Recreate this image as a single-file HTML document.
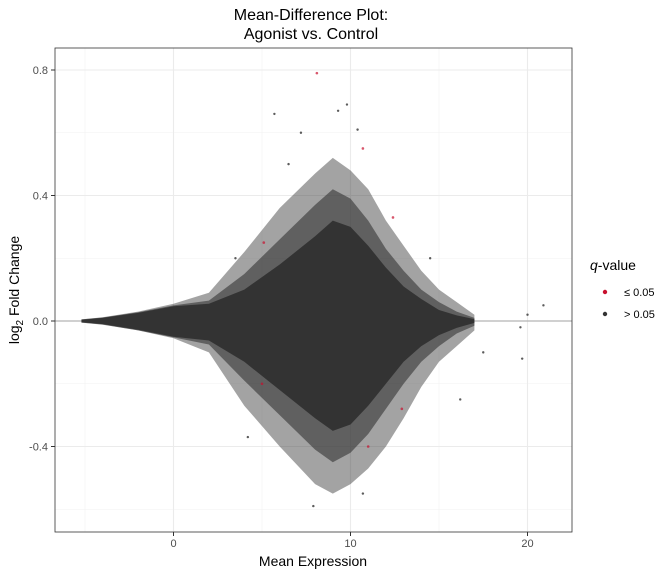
<!DOCTYPE html>
<html><head><meta charset="utf-8"><style>
body{margin:0;background:#fff;font-family:"Liberation Sans",sans-serif}
svg text{font-family:"Liberation Sans",sans-serif}
</style></head><body>
<svg width="672" height="576" xmlns="http://www.w3.org/2000/svg">
<text x="311" y="20" font-size="16" text-anchor="middle" fill="#000">Mean-Difference Plot:</text>
<text x="311" y="39" font-size="16" text-anchor="middle" fill="#000">Agonist vs. Control</text>
<g id="grid"></g>
<g id="cloud"></g>
<g id="pts"></g>
<rect x="55" y="48" width="517" height="484" fill="none" stroke="#333" stroke-width="0.8"/>
<g id="axes"></g>
<text x="313" y="566" font-size="14" text-anchor="middle">Mean Expression</text>
<text transform="translate(19,290) rotate(-90)" font-size="14" text-anchor="middle">log<tspan font-size="10" dy="4">2</tspan><tspan dy="-4"> Fold Change</tspan></text>
<g>
<text x="590" y="270" font-size="14"><tspan font-style="italic">q</tspan>-value</text>
<circle cx="605" cy="292" r="2.2" fill="#c8102e"/>
<text x="624" y="296" font-size="11">≤ 0.05</text>
<circle cx="605" cy="314" r="2.2" fill="#333"/>
<text x="624" y="318" font-size="11">&gt; 0.05</text>
</g>
</svg>
<script>
const envX=[-5.2,-4,-2,0,2,4,6,8,9,10,11,12,13,14,15,16,17];
const outerUp=[0.005,0.012,0.03,0.055,0.09,0.22,0.36,0.47,0.52,0.48,0.42,0.32,0.24,0.16,0.1,0.06,0.02];
const outerLo=[-0.005,-0.012,-0.03,-0.055,-0.1,-0.27,-0.4,-0.52,-0.55,-0.52,-0.47,-0.4,-0.31,-0.21,-0.13,-0.08,-0.03];
const midUp=[0.005,0.011,0.028,0.05,0.065,0.15,0.26,0.37,0.42,0.39,0.32,0.23,0.16,0.1,0.06,0.03,0.01];
const midLo=[-0.005,-0.011,-0.03,-0.052,-0.075,-0.19,-0.3,-0.41,-0.45,-0.42,-0.36,-0.28,-0.2,-0.13,-0.08,-0.04,-0.015];
const coreUp=[0.004,0.01,0.026,0.047,0.055,0.1,0.18,0.27,0.32,0.3,0.24,0.17,0.11,0.07,0.035,0.018,0.006];
const coreLo=[-0.004,-0.01,-0.028,-0.05,-0.062,-0.13,-0.22,-0.31,-0.35,-0.33,-0.27,-0.2,-0.13,-0.08,-0.045,-0.022,-0.006];
const ptX=[5.7,9.8,9.3,10.4,7.2,20.9,19.6,19.7,17.5,20,7.9,10.7,4.2,3.5,16.2,6.5,14.5];
const ptY=[0.66,0.69,0.67,0.61,0.6,0.05,-0.02,-0.12,-0.1,0.02,-0.59,-0.55,-0.37,0.2,-0.25,0.5,0.2];
const sigX=[8.1,10.7,12.9,11,5,5.1,12.4];
const sigY=[0.79,0.55,-0.28,-0.4,-0.2,0.25,0.33];
const xTicks=[0,10,20], xMinor=[-5,5,15];
const yTicks=[-0.4,0,0.4,0.8], yMinor=[-0.6,-0.2,0.2,0.6];
const X=v=>173.5+v*17.7, Y=v=>321-v*313.75;
const NS="http://www.w3.org/2000/svg";
function mk(t,a,p){const e=document.createElementNS(NS,t);for(const k in a)e.setAttribute(k,a[k]);p.appendChild(e);return e;}
const g=document.getElementById('grid');
xMinor.forEach(v=>{const e=mk('line',{x1:X(v),x2:X(v),y1:48,y2:532,stroke:'#f2f2f2','stroke-width':0.6},g);

});
yMinor.forEach(v=>{const e=mk('line',{x1:55,x2:572,y1:Y(v),y2:Y(v),stroke:'#f2f2f2','stroke-width':0.6},g);

});
xTicks.forEach(v=>{const e=mk('line',{x1:X(v),x2:X(v),y1:48,y2:532,stroke:'#ebebeb','stroke-width':1.1},g);

});
yTicks.forEach(v=>{const e=mk('line',{x1:55,x2:572,y1:Y(v),y2:Y(v),stroke:'#ebebeb','stroke-width':1.1},g);

});
const h=mk('line',{x1:55,x2:572,y1:Y(0),y2:Y(0),stroke:'#b3b3b3','stroke-width':1.2},g);


const c=document.getElementById('cloud');
function env(up,lo,op,name){let d='M'+envX.map((x,i)=>X(x)+','+Y(up[i])).join('L');
d+='L'+envX.slice().reverse().map((x,j)=>{const i=envX.length-1-j;return X(x)+','+Y(lo[i]);}).join('L')+'Z';
const e=mk('path',{d:d,fill:'#333','fill-opacity':op,stroke:'none'},c);

}
env(outerUp,outerLo,0.45,'sparse-point-region');
env(midUp,midLo,0.6,'medium-point-region');
env(coreUp,coreLo,1,'dense-point-region');
const p=document.getElementById('pts');
ptX.forEach((x,i)=>{const e=mk('circle',{cx:X(x),cy:Y(ptY[i]),r:1.2,fill:'#333','fill-opacity':0.8},p);

});
sigX.forEach((x,i)=>{const e=mk('circle',{cx:X(x),cy:Y(sigY[i]),r:1.3,fill:'#c8102e','fill-opacity':0.7},p);

});
const a=document.getElementById('axes');
xTicks.forEach(v=>{const l=mk('line',{x1:X(v),x2:X(v),y1:532,y2:536,stroke:'#333'},a);


const t=mk('text',{x:X(v),y:547,'font-size':11,'text-anchor':'middle',fill:'#4d4d4d'},a);t.textContent=v;

});
yTicks.forEach(v=>{const l=mk('line',{x1:51,x2:55,y1:Y(v),y2:Y(v),stroke:'#333'},a);


const t=mk('text',{x:48,y:Y(v)+4,'font-size':11,'text-anchor':'end',fill:'#4d4d4d'},a);t.textContent=v.toFixed(1);

});
</script>
</body></html>
